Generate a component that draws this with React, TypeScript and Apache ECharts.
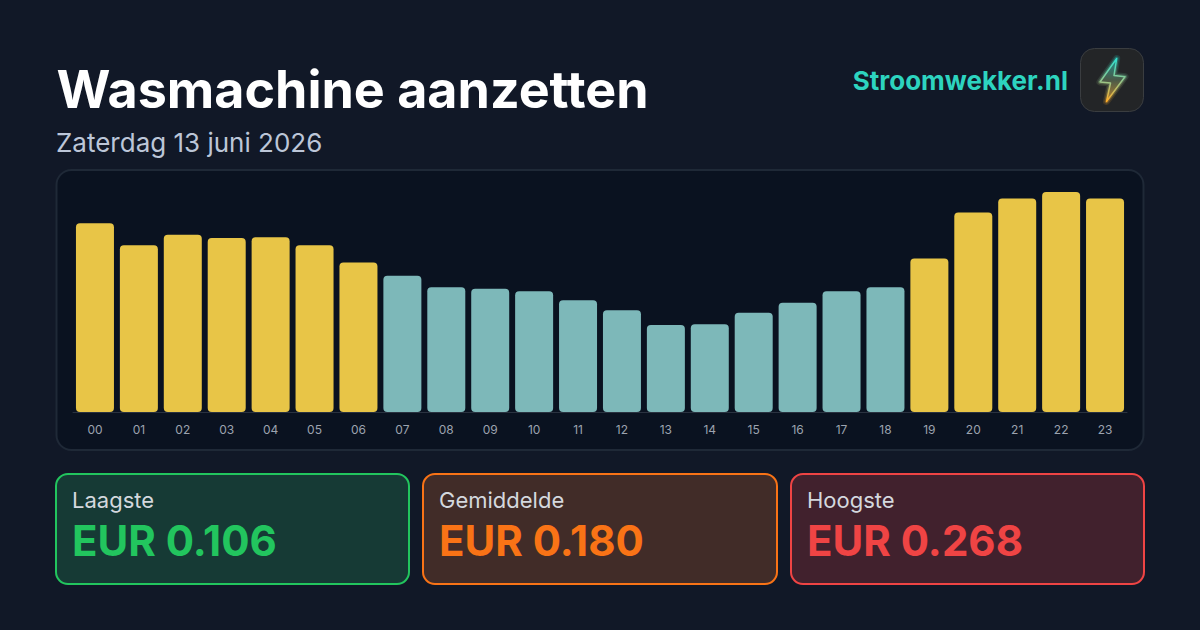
import React, { useEffect, useRef } from 'react';
import * as echarts from 'echarts';

const title = 'Wasmachine aanzetten';
const subtitle = 'Zaterdag 13 juni 2026';
const brand = 'Stroomwekker.nl';

const hours = ['00', '01', '02', '03', '04', '05', '06', '07', '08', '09', '10', '11', '12', '13', '14', '15', '16', '17', '18', '19', '20', '21', '22', '23'];
const prices = [0.230, 0.203, 0.216, 0.212, 0.213, 0.203, 0.182, 0.166, 0.152, 0.150, 0.147, 0.136, 0.124, 0.106, 0.107, 0.121, 0.133, 0.147, 0.152, 0.187, 0.243, 0.260, 0.268, 0.260];

const statLabels = ['Laagste', 'Gemiddelde', 'Hoogste'];
const statValues = [0.106, 0.180, 0.268];

const FONT = 'Inter';
const YELLOW = '#e8c547';
const TEAL = '#7db8b9';

const cardStyles = [
  { x: 56, w: 353, fill: '#163a35', border: '#22c55e', text: '#22c55e' },
  { x: 423, w: 354, fill: '#412c28', border: '#f97316', text: '#f97316' },
  { x: 791, w: 353, fill: '#41212d', border: '#ef4444', text: '#ef4444' },
];

const boltPoints = [[1116.7, 58.5], [1100, 82], [1110.5, 83], [1106.5, 101.5], [1125, 76.7], [1114, 75.5]];

function buildGraphic() {
  const boltStroke = () =>
    new echarts.graphic.LinearGradient(0, 0, 0, 1, [
      { offset: 0, color: '#2fe0d0' },
      { offset: 0.5, color: '#8fc890' },
      { offset: 1, color: '#ffac28' },
    ]);
  const els: any[] = [
    // panel behind the bars
    {
      type: 'rect',
      shape: { x: 56.5, y: 170, width: 1087, height: 280, r: 15 },
      style: { fill: '#0a1220', stroke: '#1f2937', lineWidth: 2 },
    },
    { type: 'text', x: 56.5, y: 89, style: { text: title, fill: '#ffffff', fontFamily: FONT, fontSize: 52, fontWeight: 700, verticalAlign: 'middle' } },
    { type: 'text', x: 56, y: 142, style: { text: subtitle, fill: '#bcc6d8', fontFamily: FONT, fontSize: 26, fontWeight: 400, verticalAlign: 'middle' } },
    { type: 'text', x: 1068, y: 80, style: { text: brand, fill: '#2dd4bf', fontFamily: FONT, fontSize: 26, fontWeight: 700, align: 'right', verticalAlign: 'middle' } },
    // logo
    {
      type: 'rect',
      shape: { x: 1080.5, y: 48.5, width: 63, height: 63, r: 14 },
      style: { fill: '#232527', stroke: '#3a3d40', lineWidth: 1 },
    },
    // soft halo, then the bolt itself
    {
      type: 'polygon',
      shape: { points: boltPoints },
      style: { fill: 'none', stroke: boltStroke(), lineWidth: 7, opacity: 0.14, lineJoin: 'round' },
    },
    {
      type: 'polygon',
      shape: { points: boltPoints },
      style: { fill: 'none', stroke: boltStroke(), lineWidth: 4, opacity: 0.28, lineJoin: 'round' },
    },
    {
      type: 'polygon',
      shape: { points: boltPoints },
      style: {
        fill: new echarts.graphic.LinearGradient(0, 0, 0, 1, [
          { offset: 0, color: '#1f8f8c' },
          { offset: 0.5, color: '#4a5a48' },
          { offset: 1, color: '#b9822c' },
        ]),
        stroke: boltStroke(),
        lineWidth: 1.5,
        lineJoin: 'round',
      },
    },
  ];

  cardStyles.forEach((c, i) => {
    els.push({
      type: 'rect',
      shape: { x: c.x, y: 474, width: c.w, height: 110, r: 12 },
      style: { fill: c.fill, stroke: c.border, lineWidth: 2 },
    });
    els.push({ type: 'text', x: c.x + 16, y: 500, style: { text: statLabels[i], fill: '#d4d8de', fontFamily: FONT, fontSize: 22, verticalAlign: 'middle' } });
    els.push({
      type: 'text',
      x: c.x + 16,
      y: 540,
      style: { text: `EUR ${statValues[i].toFixed(3)}`, fill: c.text, fontFamily: FONT, fontSize: 42, fontWeight: 700, verticalAlign: 'middle' },
    });
  });
  return els;
}

export default function App() {
  const chartRef = useRef<HTMLDivElement | null>(null);

  useEffect(() => {
    document.body.style.margin = '0';
    if (!chartRef.current) return;
    const inst = echarts.init(chartRef.current, undefined, { renderer: 'svg' });
    inst.setOption({
      animation: false,
      backgroundColor: '#111827',
      textStyle: { fontFamily: FONT },
      graphic: { elements: buildGraphic() },
      grid: { left: 73, right: 73, top: 192, height: 220, containLabel: false },
      xAxis: {
        type: 'category',
        data: hours,
        axisLine: { lineStyle: { color: '#2a3240', width: 1 } },
        axisTick: { show: false },
        axisLabel: { color: '#9ca3af', fontFamily: FONT, fontSize: 12, margin: 11 },
      },
      yAxis: {
        type: 'value',
        min: 0,
        max: 0.268,
        show: false,
        splitLine: { show: false },
      },
      series: [
        {
          type: 'bar',
          barWidth: 38,
          data: prices.map((p) => ({
            value: p,
            itemStyle: { color: p > statValues[1] ? YELLOW : TEAL, borderRadius: 4 },
          })),
        },
      ],
    });
    return () => inst.dispose();
  }, []);

  return <div ref={chartRef} style={{ width: 1200, height: 630 }} />;
}
